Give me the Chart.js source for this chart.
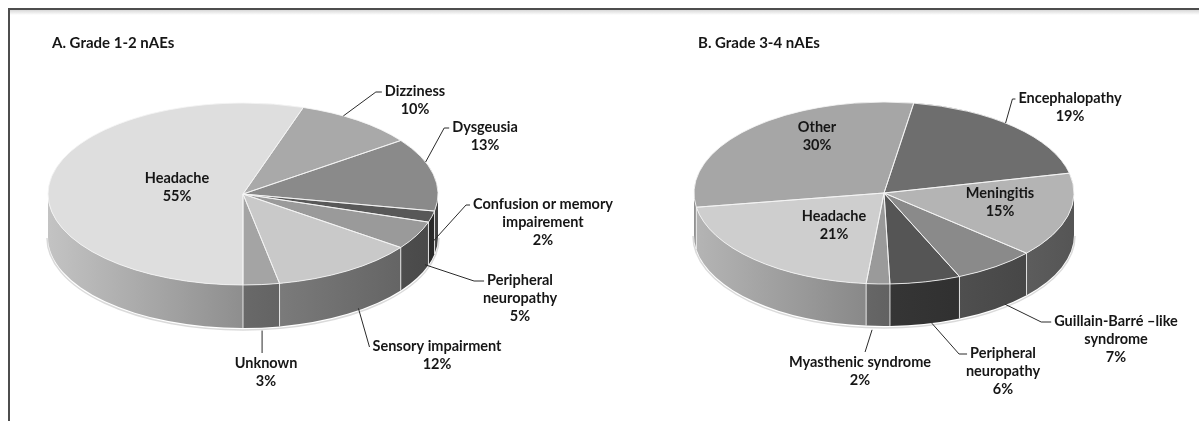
<!DOCTYPE html>
<html>
<head>
<meta charset="utf-8">
<script src="https://cdn.jsdelivr.net/npm/chart.js@4.4.0/dist/chart.umd.min.js"></script>
<style>
  body { margin: 0; background: #fff; }
  #page { position: relative; width: 1199px; height: 421px; overflow: hidden; background: #fff; }
  #frame { position: absolute; left: 8px; top: 8px; width: 1400px; height: 600px;
           border-left: 2px solid #4d4d4d; border-top: 2px solid #4d4d4d; }
  #shade { position: absolute; left: 10px; top: 10px; right: 0; height: 5px;
           background: linear-gradient(#d8d8d8, #fff); }
  canvas { position: absolute; left: 0; top: 0; }
  .title { position: absolute; top: 32px; font: bold 15px Lato, sans-serif; color: #161616; line-height: 20px; }
</style>
</head>
<body>
<div id="page">
  <div id="frame"></div>
  <div id="shade"></div>
  <canvas id="pieLow" width="1199" height="421"></canvas>
  <canvas id="pieHigh" width="1199" height="421"></canvas>
  <div class="title" style="left:52px">A. Grade 1-2 nAEs</div>
  <div class="title" style="left:698px">B. Grade 3-4 nAEs</div>
</div>
<script>
// Grade 1-2 neurological AEs
const lowCategories = ["Headache", "Dizziness", "Dysgeusia", ["Confusion or memory", "impairement"],
                       ["Peripheral", "neuropathy"], "Sensory impairment", "Unknown"];
const lowValues = [55, 10, 13, 2, 5, 12, 3];

// Grade 3-4 neurological AEs
const highCategories = ["Encephalopathy", "Meningitis", ["Guillain-Barré –like", "syndrome"],
                        ["Peripheral", "neuropathy"], "Myasthenic syndrome", "Headache", "Other"];
const highValues = [19, 15, 7, 6, 2, 21, 30];

// styles
const lowColors = ["#dedede", "#a9a9a9", "#8a8a8a", "#585858", "#9a9a9a", "#c9c9c9", "#a4a4a4"];
const highColors = ["#6e6e6e", "#b4b4b4", "#8a8a8a", "#555555", "#9a9a9a", "#cecece", "#a6a6a6"];

const FONT = "bold 14.5px Lato, sans-serif";
const LINE = 18;

// ellipse placement + label placement (offsets from pie centre)
const lowLayout = {
  cx: 243, cy: 194, rx: 195, ry: 91, depth: 43, rotation: 180,
  labels: [
    { dx: -66, dy: -16 },
    { dx: 172, dy: -103, at: 0.36, drop: 0, hook: 6 },
    { dx: 242, dy: -67, at: 0.33, drop: 0, hook: 5 },
    { dx: 300, dy: 10, at: 0.3, drop: 27, hook: 4 },
    { dx: 277, dy: 86, at: 0.17, drop: 38, hook: 10 },
    { dx: 194, dy: 152, at: 0.41, drop: 41, hook: 0 },
    { dx: 23, dy: 169, at: 0.48, drop: 46, above: 0 }
  ]
};
const highLayout = {
  cx: 884, cy: 193, rx: 190, ry: 91, depth: 42, rotation: 9,
  labels: [
    { dx: 186, dy: -95, at: 0.45, drop: 0, hook: 3 },
    { dx: 116, dy: 0 },
    { dx: 232, dy: 128, at: 0.36, drop: 41, hook: 10 },
    { dx: 119, dy: 160, at: 0.41, drop: 42, hook: 8 },
    { dx: -24, dy: 169, at: 0.75, drop: 46, above: -7 },
    { dx: -50, dy: 23 },
    { dx: -67, dy: -66 }
  ]
};

function shade(hex, f) {
  const n = parseInt(hex.slice(1), 16);
  const c = [(n >> 16) & 255, (n >> 8) & 255, n & 255].map(v => Math.round(v * f));
  return `rgb(${c[0]},${c[1]},${c[2]})`;
}

// pieces of [s, e] that face the viewer (canvas angle 0..PI, repeated)
function frontParts(s, e) {
  const out = [];
  for (let k = -1; k <= 2; k++) {
    const a = Math.max(s, 2 * Math.PI * k), b = Math.min(e, 2 * Math.PI * k + Math.PI);
    if (b > a) out.push([a, b]);
  }
  return out;
}

const pie3d = (lay) => ({
  id: "pie3d",
  beforeDatasetsDraw(chart) {
    const ctx = chart.ctx;
    const arcs = chart.getDatasetMeta(0).data;
    const colors = chart.data.datasets[0].backgroundColor;
    const { cx, cy, rx, ry, depth } = lay;

    // side walls
    arcs.forEach((arc, i) => {
      frontParts(arc.startAngle, arc.endAngle).forEach(([a, b]) => {
        const g = ctx.createLinearGradient(cx - rx, 0, cx + rx, 0);
        g.addColorStop(0, shade(colors[i], 0.88));
        g.addColorStop(0.5, shade(colors[i], 0.64));
        g.addColorStop(1, shade(colors[i], 0.47));
        ctx.beginPath();
        ctx.ellipse(cx, cy, rx, ry, 0, a, b);
        ctx.ellipse(cx, cy + depth, rx, ry, 0, b, a, true);
        ctx.closePath();
        ctx.fillStyle = g;
        ctx.fill();
      });
    });

    // squash the library's round pie into the top ellipse
    const R = arcs[0].outerRadius;
    ctx.save();
    ctx.translate(cx, cy);
    ctx.scale(rx / R, ry / R);
    ctx.translate(-arcs[0].x, -arcs[0].y);
  },
  afterDatasetsDraw(chart) {
    const ctx = chart.ctx;
    ctx.restore();
    const arcs = chart.getDatasetMeta(0).data;
    const { cx, cy, rx, ry, depth } = lay;

    ctx.save();
    ctx.strokeStyle = "rgba(245,245,245,0.85)";
    ctx.lineWidth = 1;
    arcs.forEach(arc => {
      ctx.beginPath();
      ctx.moveTo(cx, cy);
      ctx.ellipse(cx, cy, rx, ry, 0, arc.startAngle, arc.endAngle);
      ctx.closePath();
      ctx.stroke();
      const t = ((arc.startAngle % (2 * Math.PI)) + 2 * Math.PI) % (2 * Math.PI);
      if (t > 0.02 && t < Math.PI - 0.02) {
        const x = cx + rx * Math.cos(t), y = cy + ry * Math.sin(t);
        ctx.beginPath();
        ctx.moveTo(x, y);
        ctx.lineTo(x, y + depth);
        ctx.stroke();
      }
    });
    // soft edge under the base
    ctx.strokeStyle = "rgba(150,150,150,0.35)";
    ctx.lineWidth = 1.5;
    ctx.beginPath();
    ctx.ellipse(cx, cy + depth + 1, rx + 1, ry + 1, 0, 0, Math.PI);
    ctx.stroke();
    ctx.restore();

    drawLabels(chart, lay);
  }
});

function drawLabels(chart, lay) {
  const ctx = chart.ctx;
  const arcs = chart.getDatasetMeta(0).data;
  const values = chart.data.datasets[0].data;
  const total = values.reduce((a, b) => a + b, 0);
  ctx.save();
  ctx.font = FONT;
  ctx.textAlign = "center";
  ctx.textBaseline = "middle";
  ctx.fillStyle = "#161616";
  ctx.strokeStyle = "#2a2a2a";
  ctx.lineWidth = 1;
  arcs.forEach((arc, i) => {
    const L = lay.labels[i];
    const name = chart.data.labels[i];
    const lines = (Array.isArray(name) ? name : [name]).concat(Math.round(values[i] / total * 100) + "%");
    const tx = lay.cx + L.dx, ty = lay.cy + L.dy;
    lines.forEach((s, k) => ctx.fillText(s, tx, ty + k * LINE));
    if (L.at === undefined) return;
    const t = arc.startAngle + (arc.endAngle - arc.startAngle) * L.at;
    const ax = lay.cx + lay.rx * Math.cos(t);
    const ay = lay.cy + lay.ry * Math.sin(t) + L.drop;
    ctx.beginPath();
    ctx.moveTo(ax, ay);
    if (L.above !== undefined) {
      ctx.lineTo(ax + L.above, ty - 10);
    } else {
      const ex = tx - ctx.measureText(lines[0]).width / 2 - 3;
      ctx.lineTo(ex - L.hook, ty + 1);
      ctx.lineTo(ex, ty + 1);
    }
    ctx.stroke();
  });
  ctx.restore();
}

function makePie(id, categories, values, colors, lay) {
  return new Chart(document.getElementById(id), {
    type: "pie",
    data: {
      labels: categories,
      datasets: [{ data: values, backgroundColor: colors, borderWidth: 0, clip: false }]
    },
    options: {
      responsive: false,
      animation: false,
      events: [],
      rotation: lay.rotation,
      plugins: { legend: { display: false }, tooltip: { enabled: false } }
    },
    plugins: [pie3d(lay)]
  });
}

makePie("pieLow", lowCategories, lowValues, lowColors, lowLayout);
makePie("pieHigh", highCategories, highValues, highColors, highLayout);
</script>
</body>
</html>
